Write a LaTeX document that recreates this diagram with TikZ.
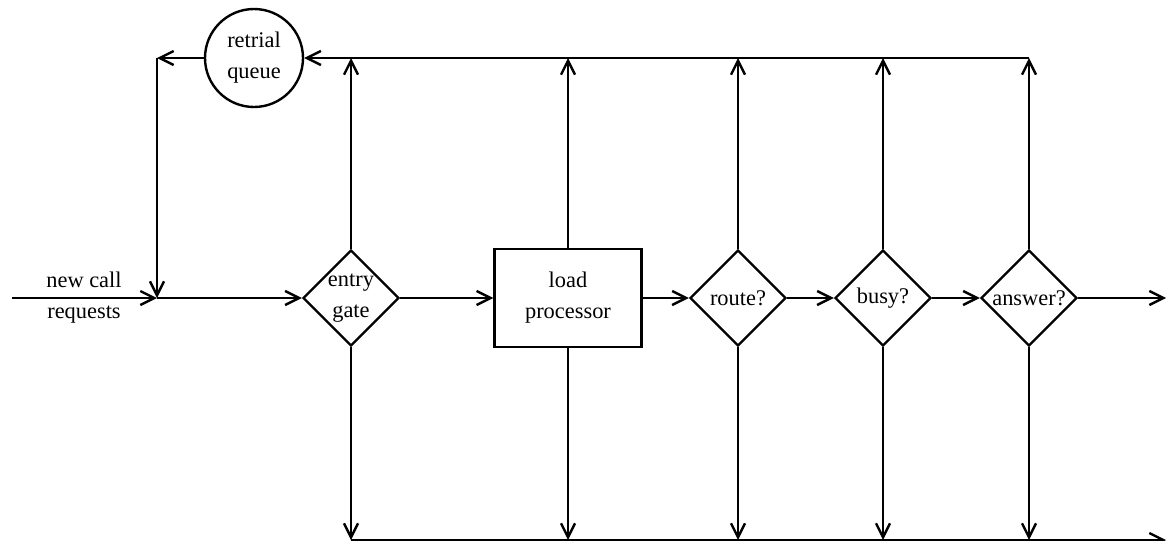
\documentclass[tikz,border=0pt]{standalone}
\usepackage{fontspec}
\setmainfont{Liberation Serif}
\usetikzlibrary{shapes.geometric,arrows.meta}
\begin{document}
\begin{tikzpicture}[x=0.5pt,y=-0.5pt,
  line width=1.2pt,
  flow/.style={-{Straight Barb[length=7pt,width=7pt,line width=1.2pt]}},
  lbl/.style={font=\fontsize{11.2}{15.5}\selectfont, align=center, inner sep=0pt},
  decision/.style={diamond, draw, aspect=1, minimum width=48pt, minimum height=48pt, inner sep=0pt, lbl},
  stage/.style={rectangle, draw, minimum width=73.5pt, minimum height=49pt, inner sep=0pt, lbl},
  queuenode/.style={circle, draw, minimum size=49pt, inner sep=0pt, lbl}]
  \useasboundingbox (0,0) rectangle (1168,541);

  % nodes of the call-processing chain
  \node[queuenode] (rq) at (254,58) {retrial\\queue};
  \node[decision] (eg) at (351,298) {entry\\gate};
  \node[stage] (lp) at (568,298) {load\\processor};
  \node[decision] (rt) at (738,298) {route?};
  \node[decision] (bz) at (883,298) {busy?};
  \node[decision] (an) at (1029,298) {answer?};
  \node[lbl] (req) at (84,298) {new call\\requests};

  % junctions and free ends
  \coordinate (in) at (12,298);
  \coordinate (j) at (157,298);
  \coordinate (c) at (157,58);
  \coordinate (out) at (1166,298);
  \coordinate (t1) at (351,58);
  \coordinate (t2) at (568,58);
  \coordinate (t3) at (738,58);
  \coordinate (t4) at (883,58);
  \coordinate (t5) at (1029,58);
  \coordinate (b1) at (351,540);
  \coordinate (b2) at (568,540);
  \coordinate (b3) at (738,540);
  \coordinate (b4) at (883,540);
  \coordinate (b5) at (1029,540);
  \coordinate (bend) at (1166,540);

  % main flow
  \draw[flow] (in) -- (j);
  \draw[flow] (j) -- (eg.west);
  \draw[flow] (eg.east) -- (lp.west);
  \draw[flow] (lp.east) -- (rt.west);
  \draw[flow] (rt.east) -- (bz.west);
  \draw[flow] (bz.east) -- (an.west);
  \draw[flow] (an.east) -- (out);

  % retrial loop
  \draw[flow] (t5) -- (rq.east);
  \draw[flow] (rq.west) -- (c);
  \draw[flow] (c) -- (j);

  % branches up to the retrial line
  \draw[flow] (eg.north) -- (t1);
  \draw[flow] (lp.north) -- (t2);
  \draw[flow] (rt.north) -- (t3);
  \draw[flow] (bz.north) -- (t4);
  \draw[flow] (an.north) -- (t5);

  % branches down to the departure line
  \draw[flow] (eg.south) -- (b1);
  \draw[flow] (lp.south) -- (b2);
  \draw[flow] (rt.south) -- (b3);
  \draw[flow] (bz.south) -- (b4);
  \draw[flow] (an.south) -- (b5);
  \draw[flow] (b1) -- (bend);
\end{tikzpicture}
\end{document}
